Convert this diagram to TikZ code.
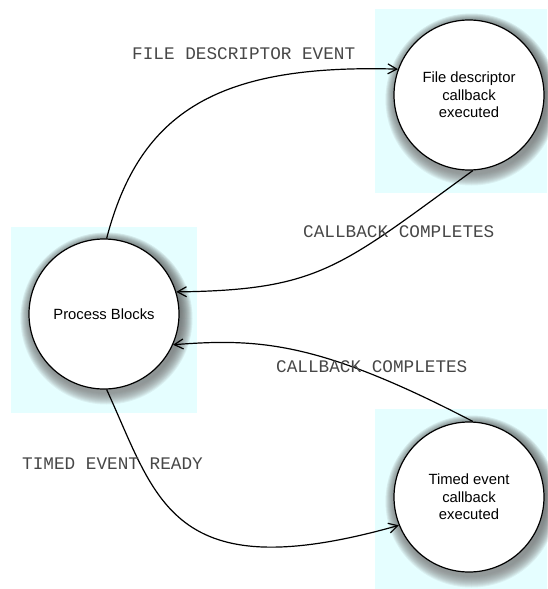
\documentclass[tikz,border=0pt]{standalone}
\usepackage{fontspec}
\setmainfont{Liberation Sans}
\newfontfamily\labelfont{Liberation Mono}
\usetikzlibrary{arrows.meta}
\definecolor{panel}{RGB}{229,254,255}
\definecolor{shade}{RGB}{30,40,130}
\begin{document}
\begin{tikzpicture}[x=1pt,y=-1pt,
  state/.style={circle, draw=black, line width=1.2pt, fill=white,
    minimum size=150pt, inner sep=0pt, align=center,
    font=\fontsize{14.8}{17.5}\selectfont},
  event/.style={font=\labelfont\fontsize{17.7}{20}\selectfont,
    text=black!72, anchor=west, inner sep=0pt},
  flow/.style={line width=1.2pt,
    -{Straight Barb[length=9pt,width=10pt,line width=1.2pt]}}]

\useasboundingbox (0,0) rectangle (547,589);

% light panels behind the states
\fill[panel] (375,9) rectangle (547,193);
\fill[panel] (11,227) rectangle (197,413);
\fill[panel] (375,409) rectangle (547,589);

% soft bluish shadows under the states
\foreach \cx/\cy in {104/314, 469/95, 469/497} {
  \foreach \k in {0,...,11}
    \fill[shade, opacity=0.055] (\cx+2.5,\cy+4.5) circle ({(86-\k)*1pt});
}

% states
\node[state] (pb) at (104,314) {Process Blocks};
\node[state] (fd) at (469,95) {File descriptor\\callback\\executed};
\node[state] (te) at (469,497) {Timed event\\callback\\executed};

% transitions
\draw[flow] (pb.88) .. controls (140,110) and (220,64) .. (fd.160);
\draw[flow] (fd.-87) .. controls (340,267) and (320,290) .. (pb.17);
\draw[flow] (te.87) .. controls (320,342) and (260,338) .. (pb.-24);
\draw[flow] (pb.-88) .. controls (157,499) and (170,590) .. (te.202);

% transition labels
\node[event] (l1) at (132,54) {FILE DESCRIPTOR EVENT};
\node[event] (l2) at (303,232) {CALLBACK COMPLETES};
\node[event] (l3) at (276,367) {CALLBACK COMPLETES};
\node[event] (l4) at (22,464) {TIMED EVENT READY};
\end{tikzpicture}
\end{document}
